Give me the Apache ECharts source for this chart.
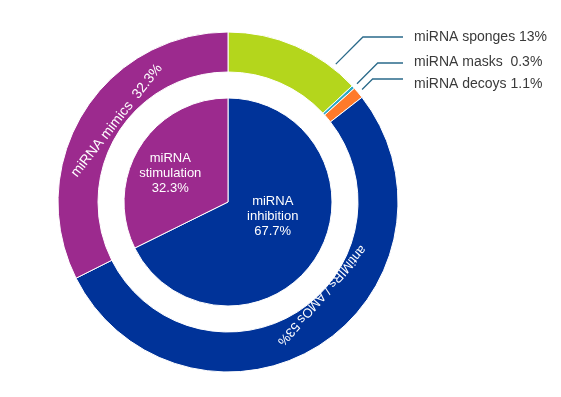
<!DOCTYPE html>
<html>
<head>
<meta charset="utf-8">
<script src="https://cdn.jsdelivr.net/npm/echarts@6/dist/echarts.min.js"></script>
<style>
  html,body{margin:0;padding:0;background:#fff;}
  #chart{width:561px;height:397px;}
</style>
</head>
<body>
<div id="chart"></div>
<script>
// inner ring
var innerNames = ['miRNA\ninhibition', 'miRNA\nstimulation'];
var innerValues = [67.7, 32.3];
var innerColors = ['#003399', '#9C2A8E'];

// outer ring, clockwise from 12 o'clock
var outerNames = ['miRNA sponges', 'miRNA masks ', 'miRNA decoys', 'antiMIRs / AMOs', 'miRNA mimics '];
var outerValues = [13, 0.3, 1.1, 53, 32.3];
var outerColors = ['#B4D61C', '#2BA9C6', '#FF7A2A', '#003399', '#9C2A8E'];

var cx = 228, cy = 202, outerR = 170;

var chart = echarts.init(document.getElementById('chart'));

var innerData = innerNames.map(function(n, i){
  return {name: n, value: innerValues[i], itemStyle: {color: innerColors[i]}};
});

// small slices get their labels on the right: [text x, text y, line y, where along the slice the line starts]
var sideLabel = {
  'miRNA sponges': [414, 37, 37, 0.81],
  'miRNA masks ': [414, 62, 63, 0.5],
  'miRNA decoys': [414, 84, 79, 0.5]
};
// big slices: label rotation (deg), screen shift, font size
var ringLabel = {
  'antiMIRs / AMOs': [-131, 12, -36, 13],
  'miRNA mimics ': [52, 19, -1, 14]
};

var total = outerValues.reduce(function(a, b){ return a + b; }, 0);
function leaderPoints(i, s){
  var before = 0;
  for(var k = 0; k < i; k++) before += outerValues[k];
  var ang = (before + s[3] * outerValues[i]) / total * Math.PI * 2;
  var r = outerR + 5;
  var x0 = cx + r * Math.sin(ang), y0 = cy - r * Math.cos(ang);
  var d = y0 - s[2];
  return [[x0, y0], [x0 + d, s[2]], [s[0] - 11, s[2]]];
}
// dx/dy of a rotated label work in its own frame
function shiftRotated(deg, sx, sy){
  var a = deg * Math.PI / 180, c = Math.cos(a), s = Math.sin(a);
  return {dx: sx * c - sy * s, dy: sx * s + sy * c};
}

var outerData = outerNames.map(function(n, i){
  var d = {name: n, value: outerValues[i], itemStyle: {color: outerColors[i]}};
  if(sideLabel[n]){
    d.label = {position: 'outside', color: '#3a3a3a', fontSize: 14};
    d.labelLine = {show: true, length: 12, length2: 30, lineStyle: {color: '#2A6A8A', width: 1.3}};
  }
  else{
    d.label = {position: 'inside', color: '#fff', fontSize: ringLabel[n][3], rotate: ringLabel[n][0]};
    d.labelLine = {show: false};
  }
  return d;
});

var option = {
  animation: false,
  series: [{
    type: 'pie',
    center: [cx, cy],
    radius: [0, 104],
    startAngle: 90,
    clockwise: true,
    itemStyle: {borderColor: '#fff', borderWidth: 1},
    label: {
      position: 'inside',
      color: '#fff',
      fontSize: 13,
      lineHeight: 15,
      fontFamily: 'Liberation Sans, Arial, sans-serif',
      formatter: function(p){ return p.name + '\n' + p.value + '%'; }
    },
    labelLayout: function(p){
      if(p.dataIndex == 0) return {dx: -2, dy: -15};
      return {dx: -11, dy: 0};
    },
    data: innerData
  }, {
    type: 'pie',
    center: [cx, cy],
    radius: [130, outerR],
    startAngle: 90,
    clockwise: true,
    avoidLabelOverlap: false,
    itemStyle: {borderColor: '#fff', borderWidth: 1},
    label: {
      fontFamily: 'Liberation Sans, Arial, sans-serif',
      formatter: function(p){ return p.name + ' ' + p.value + '%'; }
    },
    labelLayout: function(p){
      var n = outerNames[p.dataIndex];
      var s = sideLabel[n];
      if(s) return {x: s[0], y: s[1], align: 'left', verticalAlign: 'middle',
        labelLinePoints: leaderPoints(p.dataIndex, s)};
      var g = ringLabel[n];
      return shiftRotated(g[0], g[1], g[2]);
    },
    data: outerData
  }]
};
chart.setOption(option);
</script>
</body>
</html>
